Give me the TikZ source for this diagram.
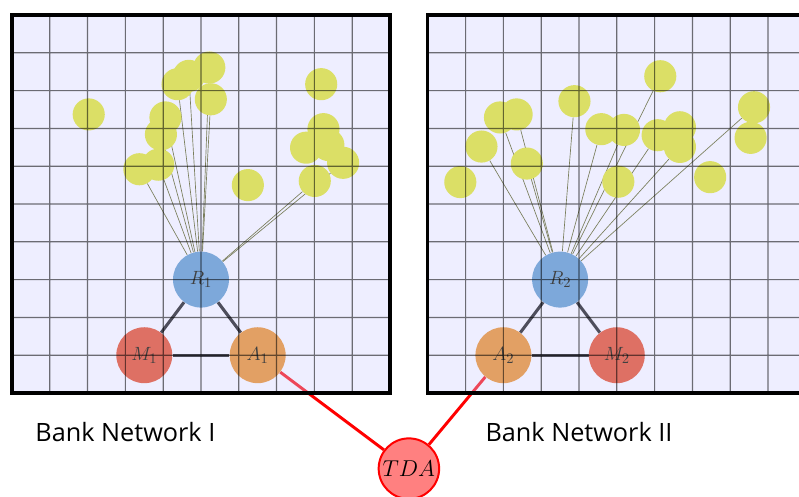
\documentclass[tikz,border=0pt]{standalone}
\usepackage{fontspec}
\setmainfont{Open Sans}
\usepackage{amsmath}
\usepackage{tikz}

\definecolor{paneltint}{RGB}{206,206,255}
\definecolor{dotyellow}{RGB}{219,223,102}
\definecolor{bankblue}{RGB}{125,168,218}
\definecolor{bankred}{RGB}{222,112,100}
\definecolor{bankorange}{RGB}{226,160,100}
\definecolor{tdapink}{RGB}{255,128,128}
\definecolor{linkolive}{RGB}{122,126,92}
\definecolor{edgegray}{RGB}{78,78,92}

\pgfdeclarelayer{under}
\pgfdeclarelayer{tint}
\pgfdeclarelayer{wires}
\pgfdeclarelayer{over}
\pgfsetlayers{under,tint,wires,main,over}

\begin{document}
\begin{tikzpicture}[
  dot/.style={circle, fill=dotyellow, minimum size=0.85cm, inner sep=0pt},
  bank/.style={circle, minimum size=1.48cm, inner sep=0pt, text=black!75, font=\fontsize{15}{17}\selectfont},
  tda/.style={circle, fill=tdapink, draw=red, line width=1.5pt, minimum size=1.6cm, inner sep=0pt, font=\fontsize{16}{18}\selectfont},
  link/.style={draw=linkolive, line width=0.5pt},
  edge/.style={draw=edgegray, line width=2.3pt},
  tie/.style={draw=red, line width=2.2pt},
  gridline/.style={draw=black, line width=0.9pt},
  caption/.style={font=\fontsize{19}{23}\selectfont}
]
\useasboundingbox (-0.317,-2.725) rectangle (20.82,10.397);

\begin{pgfonlayer}{tint}
\fill[paneltint, fill opacity=0.35] (0,0) rectangle (10,10);
\fill[paneltint, fill opacity=0.35] (11,0) rectangle (21,10);
\end{pgfonlayer}

\foreach \n/\x/\y in {1/2.03/7.37, 2/4.38/8.17, 3/4.68/8.39, 4/5.22/8.61,
  5/5.26/7.77, 6/4.06/7.29, 7/3.94/6.84, 8/3.37/5.92, 9/3.87/6.04,
  10/6.24/5.50, 11/8.18/8.17, 12/8.24/6.98, 13/7.78/6.49, 14/8.37/6.56,
  15/8.76/6.09, 16/8.01/5.61}
  \node[dot] (L\n) at (\x,\y) {};

\foreach \n/\x/\y in {1/11.86/5.58, 2/12.42/6.52, 3/12.91/7.29, 4/13.35/7.37,
  5/13.62/6.07, 6/14.88/7.72, 7/15.59/6.98, 8/16.19/6.96, 9/17.15/8.38,
  10/16.04/5.59, 11/17.08/6.82, 12/17.67/7.03, 13/17.67/6.51,
  14/18.47/5.71, 15/19.63/7.56, 16/19.54/6.75}
  \node[dot] (Q\n) at (\x,\y) {};

\node[bank, fill=bankblue] (R1) at (5,3) {$R_1$};
\node[bank, fill=bankred] (M1) at (3.5,1) {$M_1$};
\node[bank, fill=bankorange] (A1) at (6.5,1) {$A_1$};

\node[bank, fill=bankblue] (R2) at (14.5,3) {$R_2$};
\node[bank, fill=bankorange] (A2) at (13,1) {$A_2$};
\node[bank, fill=bankred] (M2) at (16,1) {$M_2$};

\node[tda] (TDA) at (10.5,-2) {$TDA$};

\node[caption] (cap1) at (3,-1.03) {Bank Network I};
\node[caption] (cap2) at (15,-1.03) {Bank Network II};

\begin{pgfonlayer}{wires}
\foreach \n in {8,9,7,6,2,3,4,5,15,16}
  \draw[link] (R1) -- (L\n);
\foreach \n in {2,3,4,5,6,7,8,9,11,13,15}
  \draw[link] (R2) -- (Q\n);
\draw[edge] (R1) -- (M1);
\draw[edge] (M1) -- (A1);
\draw[edge] (A1) -- (R1);
\draw[edge] (R2) -- (A2);
\draw[edge] (A2) -- (M2);
\draw[edge] (M2) -- (R2);
\end{pgfonlayer}

\begin{pgfonlayer}{under}
\draw[tie] (A1) -- (TDA);
\draw[tie] (A2) -- (TDA);
\end{pgfonlayer}

\begin{pgfonlayer}{over}
\begin{scope}[transparency group, opacity=0.55]
\draw[gridline] (0,0) grid (10,10);
\draw[gridline] (11,0) grid (21,10);
\end{scope}
\draw[line width=2.5pt] (0,0) rectangle (10,10);
\draw[line width=2.5pt] (11,0) rectangle (21,10);
\end{pgfonlayer}
\end{tikzpicture}
\end{document}
